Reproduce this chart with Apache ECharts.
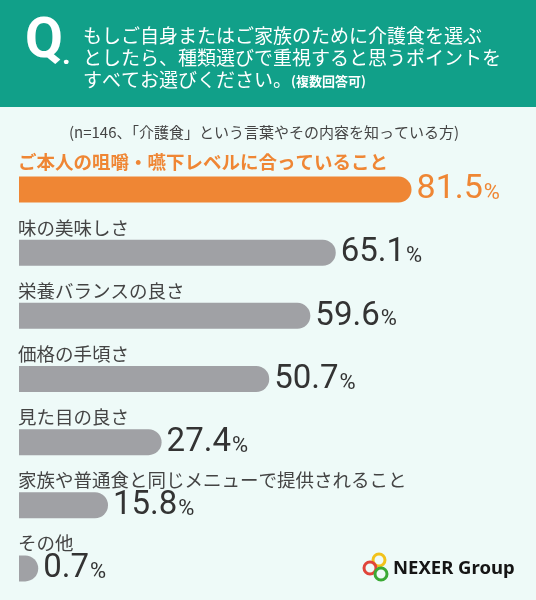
<!DOCTYPE html>
<html>
<head>
<meta charset="utf-8">
<script src="https://cdn.jsdelivr.net/npm/echarts@6/dist/echarts.min.js"></script>
<style>
html,body{margin:0;padding:0;background:#EEFAF8;}
#main{width:536px;height:600px;}
</style>
</head>
<body>
<div id="main"></div>
<script>
const categories = [
  'ご本人の咀嚼・嚥下レベルに合っていること',
  '味の美味しさ',
  '栄養バランスの良さ',
  '価格の手頃さ',
  '見た目の良さ',
  '家族や普通食と同じメニューで提供されること',
  'その他'
];
const values = [81.5, 65.1, 59.6, 50.7, 27.4, 15.8, 0.7];
const questionLines = [
  'もしご自身またはご家族のために介護食を選ぶ',
  'としたら、種類選びで重視すると思うポイントを',
  'すべてお選びください。'
];
const questionNote = '(複数回答可)';
const subtitle = '(n=146、「介護食」という言葉やその内容を知っている方)';
const logoText = 'NEXER Group';

const TEAL = '#11A089';
const ORANGE = '#EF8634';
const GRAY = '#A0A1A5';
const JP = '"Noto Sans CJK JP", "Noto Sans", sans-serif';
const NUM = 'Roboto, "Noto Sans", sans-serif';

const chart = echarts.init(document.getElementById('main'));

function renderItem(params, api) {
  const v = api.value(0);
  const idx = api.value(1);
  const s = api.coord([0, idx]);
  const e = api.coord([v, idx]);
  const h = 26, cap = 16;
  const w = e[0] - s[0] + cap;
  const hl = idx === 0;
  return {
    type: 'group',
    children: [
      {
        type: 'rect',
        shape: { x: s[0], y: s[1] - h / 2, width: w, height: h, r: [0, h / 2, h / 2, 0] },
        style: { fill: hl ? ORANGE : GRAY }
      },
      {
        type: 'text',
        style: {
          x: s[0] - 1, y: s[1] - (hl ? 28 : 25),
          text: categories[idx],
          fill: hl ? ORANGE : '#444',
          fontSize: 18.5,
          fontWeight: hl ? 'bold' : 'normal',
          fontFamily: JP,
          verticalAlign: 'middle', align: 'left'
        }
      },
      {
        type: 'text',
        style: {
          x: s[0] + w + 5, y: s[1],
          text: '{n|' + v.toFixed(1) + '}{p|%}',
          fill: hl ? ORANGE : '#333',
          verticalAlign: 'middle', align: 'left',
          rich: {
            n: { fontSize: hl ? 34 : 33, fontFamily: NUM, fontWeight: 'normal', lineHeight: 34, verticalAlign: 'bottom' },
            p: { fontSize: 22, fontFamily: NUM, fontWeight: 'normal', lineHeight: 22, verticalAlign: 'bottom', padding: [0, 0, 2, 1] }
          }
        }
      }
    ]
  };
}

const graphics = [
  { type: 'rect', shape: { x: 0, y: 0, width: 536, height: 107 }, style: { fill: TEAL }, silent: true },
  { type: 'text', style: { x: 25, y: 43, text: 'Q', fill: '#fff', fontSize: 55, fontWeight: 'bold', fontFamily: NUM, verticalAlign: 'middle' } },
  { type: 'text', style: { x: 62, y: 56, text: '.', fill: '#fff', fontSize: 30, fontWeight: 'bold', fontFamily: NUM, verticalAlign: 'middle' } },
  { type: 'text', style: { x: 264, y: 132, text: subtitle, fill: '#444', fontSize: 15, fontFamily: JP, align: 'center', verticalAlign: 'middle' } },
  // logo
  { type: 'circle', shape: { cx: 379, cy: 560, r: 6 }, style: { fill: 'none', stroke: '#F2C21B', lineWidth: 3 } },
  { type: 'circle', shape: { cx: 370, cy: 568, r: 6 }, style: { fill: 'none', stroke: '#E0443A', lineWidth: 3 } },
  { type: 'circle', shape: { cx: 381, cy: 574, r: 6 }, style: { fill: 'none', stroke: '#3BA935', lineWidth: 3 } },
  { type: 'text', style: { x: 393, y: 569, text: logoText, fill: '#151515', fontSize: 18.5, fontWeight: 'bold', fontFamily: '"Noto Sans", sans-serif', verticalAlign: 'middle' } }
];
const lineY = [35.5, 57.5, 80];
questionLines.forEach((t, i) => {
  graphics.push({ type: 'text', style: { x: 83, y: lineY[i], text: t, fill: '#fff', fontSize: 19, fontFamily: JP, verticalAlign: 'middle' } });
});
graphics.push({ type: 'text', style: { x: 291, y: 81, text: questionNote, fill: '#fff', fontSize: 13, fontWeight: 'bold', fontFamily: JP, verticalAlign: 'middle' } });

chart.setOption({
  backgroundColor: '#EEFAF8',
  animation: false,
  grid: { left: 19, right: 55, top: 158, bottom: 0 },
  xAxis: { type: 'value', min: 0, max: 100, show: false },
  yAxis: { type: 'category', data: categories, inverse: true, show: false },
  graphic: graphics,
  series: [{
    type: 'custom',
    renderItem: renderItem,
    encode: { x: 0, y: 1 },
    data: values.map((v, i) => [v, i])
  }]
});
</script>
</body>
</html>
